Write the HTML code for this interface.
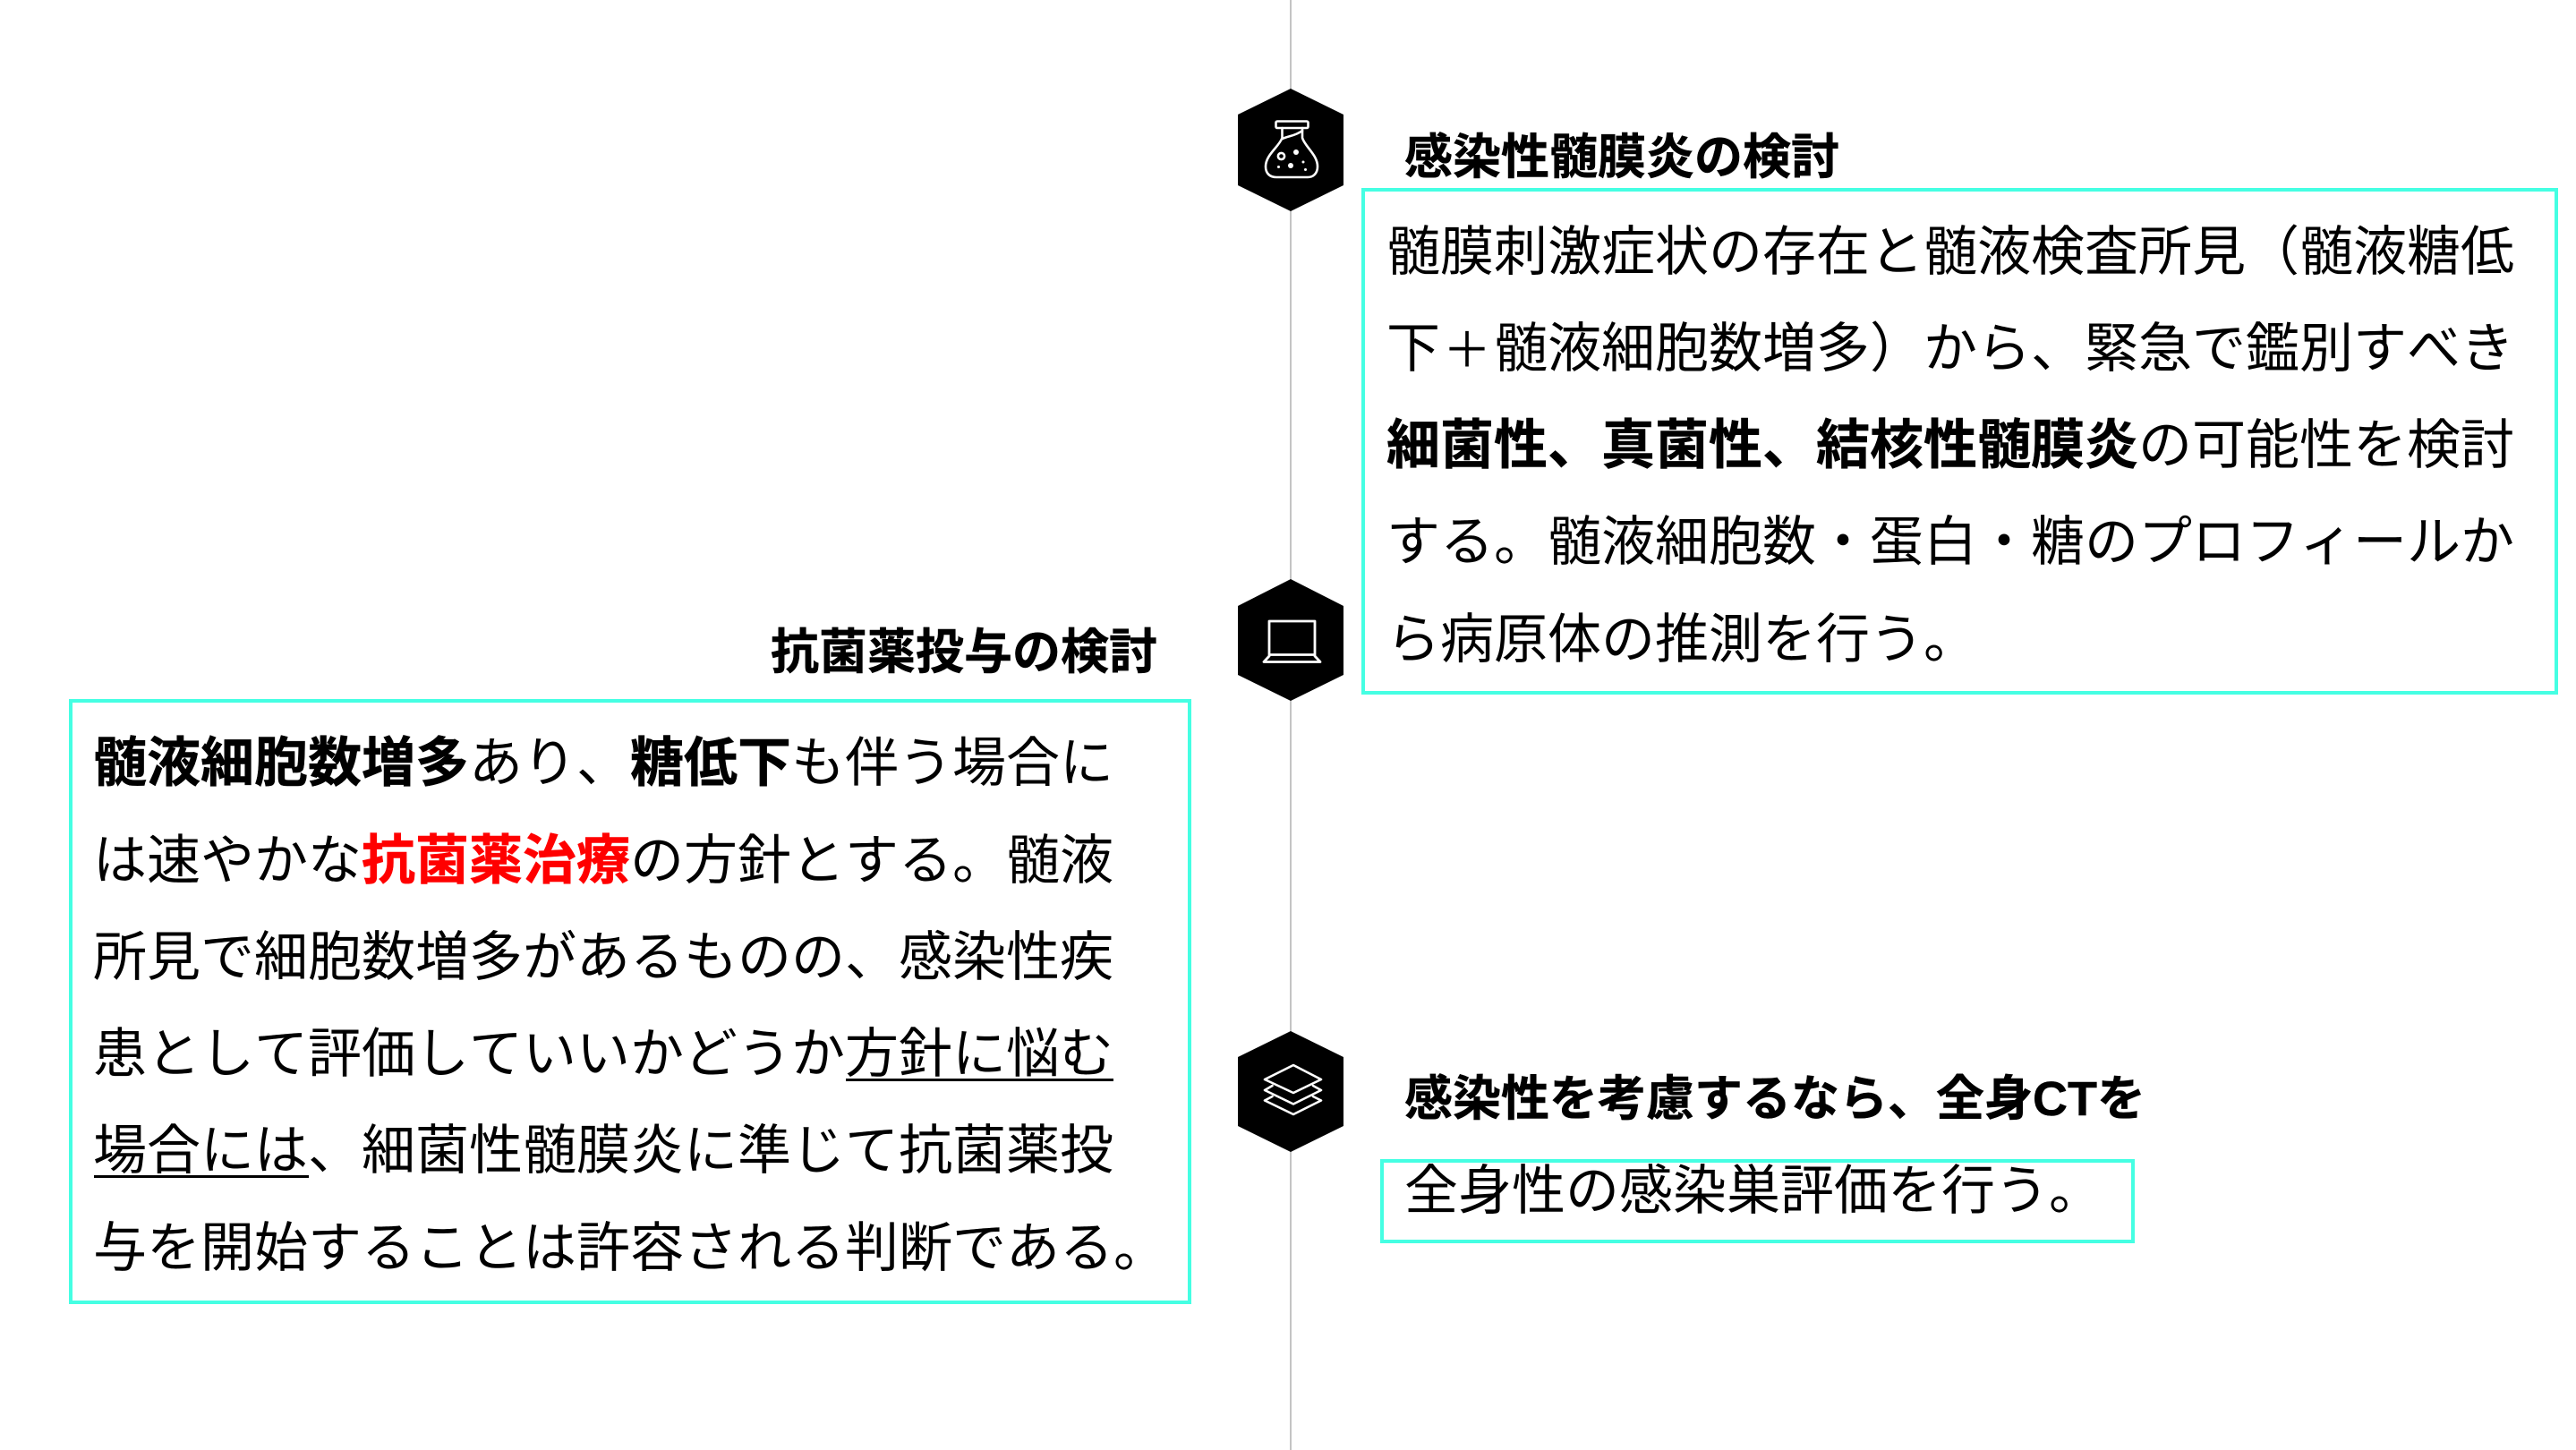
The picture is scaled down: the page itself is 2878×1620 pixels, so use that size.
<!DOCTYPE html>
<html lang="ja">
<head>
<meta charset="utf-8">
<title>感染性髄膜炎の検討</title>
<style>
html,body{margin:0;padding:0;background:#fff}
body{position:relative;width:2878px;height:1620px;overflow:hidden;font-family:"Liberation Sans","Noto Sans CJK JP",sans-serif;color:#000}
.b{position:absolute;box-sizing:border-box;border:4px solid #45ffe3}
.t,.h{position:absolute;white-space:nowrap;text-spacing-trim:space-all;font-kerning:none}
.t{font-size:60px;line-height:60px;font-weight:400}
.h{font-size:54px;line-height:54px;font-weight:700;-webkit-text-stroke:.5px #000}
.u{position:absolute;height:3px;background:#000}
.p{display:inline-block;width:60px;text-align:center;font-size:54px}
b{font-weight:700;-webkit-text-stroke:.5px currentColor}
svg{position:absolute;left:0;top:0}
</style>
</head>
<body>
<svg width="2878" height="1620" viewBox="0 0 2878 1620">
<rect x="1441" y="0" width="2" height="1620" fill="#c4c4c4"/>
<polygon points="1442,99 1501,128 1501,207 1442,236 1383,207 1383,128" fill="#000"/>
<polygon points="1442,647 1501,677 1501,754 1442,783 1383,754 1383,677" fill="#000"/>
<polygon points="1442,1152 1501,1181 1501,1258 1442,1287 1383,1258 1383,1181" fill="#000"/>
<g fill="none" stroke="#fff" stroke-width="2.6" stroke-linejoin="round" stroke-linecap="round">
<rect x="1425.5" y="135.5" width="36" height="7.5" rx="1.5"/>
<path d="M1432.5 143V154C1429 164 1414 173 1414 186C1414 194 1419 198 1426 198H1461C1467 198 1472 194 1472 186C1472 173 1458 164 1455 154V143"/>
<path d="M1433 155C1439 152 1447 152 1455 146"/>
<circle cx="1431.5" cy="174.5" r="3.6"/>
</g>
<g fill="#fff">
<circle cx="1448" cy="170" r="3"/><circle cx="1442" cy="185" r="3"/><circle cx="1456" cy="181" r="1.5"/><circle cx="1428.5" cy="186.5" r="1.5"/><circle cx="1458.5" cy="189.5" r="1.5"/>
</g>
<g fill="none" stroke="#fff" stroke-width="2.8" stroke-linejoin="round" stroke-linecap="round">
<rect x="1418" y="694" width="51" height="37.5"/>
<path d="M1418 733L1412 739.5H1475L1469 733"/>
</g>
<g fill="none" stroke="#fff" stroke-width="2.6" stroke-linejoin="round" stroke-linecap="round">
<polygon points="1445,1190 1476,1206 1445,1221 1413,1206"/>
<path d="M1421.5 1213L1413 1218L1445 1233.5L1476 1218L1467 1213"/>
<path d="M1421.5 1225L1413 1229.5L1445 1245L1476 1229.5L1467 1225"/>
</g>
</svg>

<div class="b" style="left:1521px;top:210px;width:1337px;height:566px"></div>
<div class="b" style="left:77px;top:781px;width:1254px;height:676px"></div>
<div class="b" style="left:1542px;top:1295px;width:843px;height:94px"></div>

<div class="h" style="left:1569px;top:149px">感染性髄膜炎の検討</div>
<div class="t" style="left:1549px;top:252px">髄膜刺激症状の存在と髄液検査所見（髄液糖低</div>
<div class="t" style="left:1549px;top:360px">下<span class="p">＋</span>髄液細胞数増多）から、緊急で鑑別すべき</div>
<div class="t" style="left:1549px;top:468px"><b>細菌性、真菌性、結核性髄膜炎</b>の可能性を検討</div>
<div class="t" style="left:1549px;top:576px">する。髄液細胞数・蛋白・糖のプロフィールか</div>
<div class="t" style="left:1549px;top:685px">ら病原体の推測を行う。</div>

<div class="h" style="right:1585px;top:702px">抗菌薬投与の検討</div>
<div class="t" style="left:104px;top:823px"><b>髄液細胞数増多</b>あり、<b>糖低下</b>も伴う場合に</div>
<div class="t" style="left:104px;top:932px">は速やかな<b style="color:#f00">抗菌薬治療</b>の方針とする。髄液</div>
<div class="t" style="left:104px;top:1040px">所見で細胞数増多があるものの、感染性疾</div>
<div class="t" style="left:104px;top:1148px">患として評価していいかどうか方針に悩む</div>
<div class="t" style="left:104px;top:1256px">場合には、細菌性髄膜炎に準じて抗菌薬投</div>
<div class="t" style="left:104px;top:1365px">与を開始することは許容される判断である。</div>
<div class="u" style="left:945px;top:1205px;width:299px"></div>
<div class="u" style="left:105px;top:1313px;width:240px"></div>

<div class="h" style="left:1569px;top:1201px">感染性を考慮するなら、全身CTを</div>
<div class="t" style="left:1569px;top:1301px">全身性の感染巣評価を行う。</div>
</body>
</html>
